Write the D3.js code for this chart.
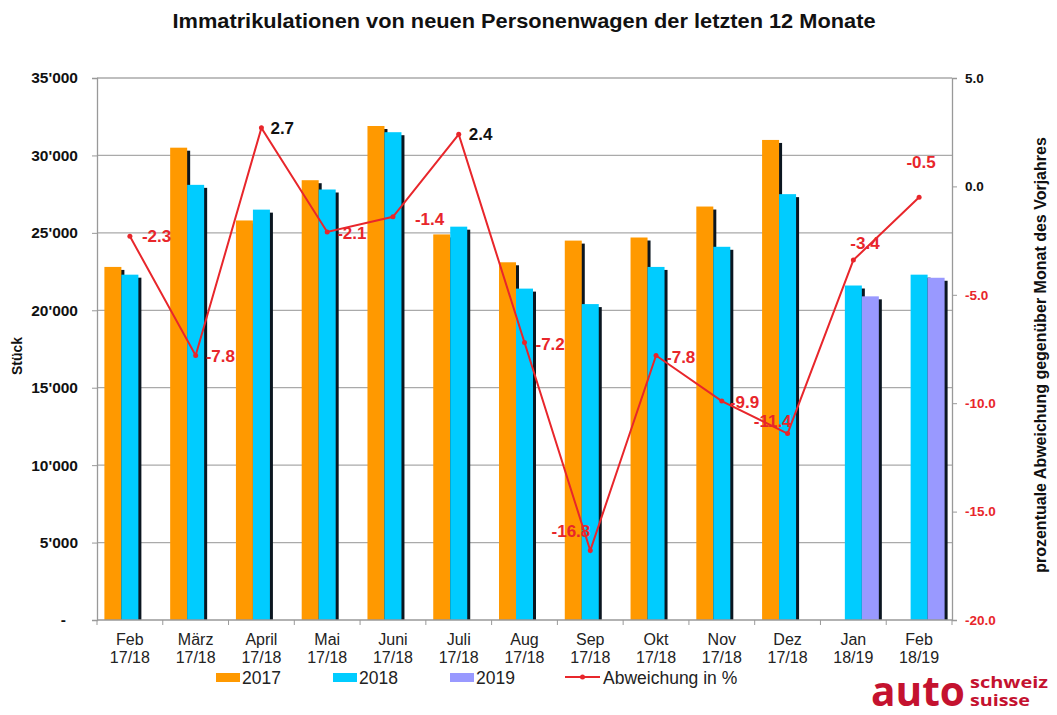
<!DOCTYPE html>
<html>
<head>
<meta charset="utf-8">
<script src="https://cdn.jsdelivr.net/npm/d3@7"></script>
<style>
  body { margin: 0; background: #fff; }
  svg { display: block; font-family: "Liberation Sans", Arial, sans-serif; }
</style>
</head>
<body>
<script>
// data
const monthNames = ["Feb", "März", "April", "Mai", "Juni", "Juli", "Aug", "Sep", "Okt", "Nov", "Dez", "Jan", "Feb"];
const periods = ["17/18", "17/18", "17/18", "17/18", "17/18", "17/18", "17/18", "17/18", "17/18", "17/18", "17/18", "18/19", "18/19"];
const sales2017 = [22800, 30500, 25800, 28400, 31900, 24900, 23100, 24500, 24700, 26700, 31000, null, null];
const sales2018 = [22300, 28100, 26500, 27800, 31500, 25400, 21400, 20400, 22800, 24100, 27500, 21600, 22300];
const sales2019 = [null, null, null, null, null, null, null, null, null, null, null, 20900, 22100];
const changePct = [-2.3, -7.8, 2.7, -2.1, -1.4, 2.4, -7.2, -16.8, -7.8, -9.9, -11.4, -3.4, -0.5];
const leftTicks = [0, 5000, 10000, 15000, 20000, 25000, 30000, 35000];
const rightTicks = [5, 0, -5, -10, -15, -20];

const seriesNames = ["2017", "2018", "2019"];
const seriesColors = ["#ff9900", "#00ccff", "#9999ff"];
const lineColor = "#e8262b";

// where each percent label sits next to its point: [dx, dy, anchor]
const labelPlace = [
  [12, 6, "start"], [10, 6, "start"], [9, 6, "start"], [10, 7, "start"],
  [22, 8, "start"], [10, 6, "start"], [11, 8, "start"], [0, -14, "end"],
  [10, 7, "start"], [8, 7, "start"], [4, -7, "end"], [-3, -11, "start"],
  [2, -29, "middle"]
];

const loc = d3.formatLocale({ decimal: ".", thousands: "'", grouping: [3], currency: ["", ""], minus: "-" });
const fmtPct = loc.format(".1f");
const fmtNum = d => d === 0 ? "-" : loc.format(",")(d);

const width = 1057;
const height = 715;
const margin = { top: 78, right: 105, bottom: 95, left: 97 };

const svg = d3.select("body").append("svg").attr("width", width).attr("height", height);

const keys = d3.range(monthNames.length);
const x = d3.scaleBand().domain(keys).range([margin.left, width - margin.right]).padding(0);
const x1 = d3.scaleBand().domain([0, 1, 2]).range([0, x.bandwidth()]).paddingInner(0).paddingOuter(0.435);
const y = d3.scaleLinear().domain([0, 35000]).range([height - margin.bottom, margin.top]);
const y2 = d3.scaleLinear().domain([-20, 5]).range([height - margin.bottom, margin.top]);

const x0 = margin.left, xR = width - margin.right, yB = height - margin.bottom;

// title
svg.append("text")
  .attr("x", 524).attr("y", 28)
  .attr("text-anchor", "middle")
  .attr("font-size", 21).attr("font-weight", "bold").attr("fill", "#111")
  .attr("textLength", 703).attr("lengthAdjust", "spacingAndGlyphs")
  .text("Immatrikulationen von neuen Personenwagen der letzten 12 Monate");

// gridlines
svg.append("g")
  .selectAll("line").data(leftTicks.filter(d => d > 0)).join("line")
  .attr("x1", x0).attr("x2", xR)
  .attr("y1", d => y(d)).attr("y2", d => y(d))
  .attr("stroke", "#aaa").attr("stroke-width", 1.3);

// bars with dark drop shadow
const series = [sales2017, sales2018, sales2019];
const barG = svg.append("g");
keys.forEach(i => {
  series.forEach((vals, s) => {
    const v = vals[i];
    if (v == null) return;
    const bx = x(i) + x1(s), by = y(v), bw = x1.bandwidth();
    barG.append("rect")
      .attr("x", bx + 3).attr("y", by + 3)
      .attr("width", bw).attr("height", yB - by - 3)
      .attr("fill", "#0b1620");
    barG.append("rect")
      .attr("x", bx).attr("y", by)
      .attr("width", bw).attr("height", yB - by)
      .attr("fill", seriesColors[s]);
  });
});

// left axis
const leftAxis = svg.append("g")
  .attr("transform", `translate(${x0},0)`)
  .call(d3.axisLeft(y).tickValues(leftTicks).tickFormat(fmtNum).tickSize(5).tickPadding(14));
leftAxis.select(".domain").attr("stroke", "#999").attr("stroke-width", 1.3);
leftAxis.selectAll(".tick line").attr("stroke", "#999");
leftAxis.selectAll(".tick text")
  .attr("font-size", 15.5).attr("font-weight", "bold").attr("fill", "#111")
  .attr("font-family", "Liberation Sans, Arial, sans-serif")
  .attr("dx", d => d === 0 ? -12 : 0);

// right axis
const rightAxis = svg.append("g")
  .attr("transform", `translate(${xR},0)`)
  .call(d3.axisRight(y2).tickValues(rightTicks).tickFormat(fmtPct).tickSize(5).tickPadding(8));
rightAxis.select(".domain").attr("stroke", "#999").attr("stroke-width", 1.3);
rightAxis.selectAll(".tick line").attr("stroke", "#999");
rightAxis.selectAll(".tick text")
  .attr("font-size", 13.5).attr("font-weight", "bold")
  .attr("font-family", "Liberation Sans, Arial, sans-serif")
  .attr("fill", d => d < 0 ? lineColor : "#111");

// bottom axis: ticks at band edges
svg.append("line")
  .attr("x1", x0).attr("x2", xR).attr("y1", yB).attr("y2", yB)
  .attr("stroke", "#999").attr("stroke-width", 1.3);
svg.append("g")
  .selectAll("line").data(d3.range(monthNames.length + 1)).join("line")
  .attr("x1", d => x0 + d * x.step()).attr("x2", d => x0 + d * x.step())
  .attr("y1", yB).attr("y2", yB + 5)
  .attr("stroke", "#999");

const catG = svg.append("g").attr("font-size", 16).attr("fill", "#222").attr("text-anchor", "middle");
keys.forEach(i => {
  const cx = x(i) + x.bandwidth() / 2;
  catG.append("text").attr("x", cx).attr("y", yB + 25).text(monthNames[i]);
  catG.append("text").attr("x", cx).attr("y", yB + 43).text(periods[i]);
});

// axis titles
svg.append("text")
  .attr("transform", `translate(22,${(margin.top + yB) / 2 + 7}) rotate(-90)`)
  .attr("text-anchor", "middle")
  .attr("font-size", 14).attr("font-weight", "bold").attr("fill", "#111")
  .text("Stück");
svg.append("text")
  .attr("transform", `translate(1046,${(margin.top + yB) / 2 + 6}) rotate(-90)`)
  .attr("text-anchor", "middle")
  .attr("font-size", 16).attr("font-weight", "bold").attr("fill", "#111")
  .text("prozentuale Abweichung gegenüber Monat des Vorjahres");

// percentage line
const cxOf = i => x(i) + x.bandwidth() / 2;
const line = d3.line().x((d, i) => cxOf(i)).y(d => y2(d));
svg.append("path")
  .datum(changePct)
  .attr("d", line)
  .attr("fill", "none").attr("stroke", lineColor).attr("stroke-width", 2);
svg.append("g")
  .selectAll("circle").data(changePct).join("circle")
  .attr("cx", (d, i) => cxOf(i)).attr("cy", d => y2(d)).attr("r", 2.5)
  .attr("fill", lineColor);
svg.append("g")
  .selectAll("text").data(changePct).join("text")
  .attr("x", (d, i) => cxOf(i) + labelPlace[i][0])
  .attr("y", d => y2(d))
  .attr("dy", (d, i) => labelPlace[i][1])
  .attr("text-anchor", (d, i) => labelPlace[i][2])
  .attr("font-size", 17).attr("font-weight", "bold")
  .attr("fill", d => d < 0 ? lineColor : "#111")
  .text(d => fmtPct(d));

// legend
const legend = svg.append("g").attr("font-size", 17.5).attr("fill", "#222");
const legX = 216, legStep = 117, legY = 677;
seriesNames.forEach((name, s) => {
  const lx = legX + s * legStep;
  legend.append("rect").attr("x", lx).attr("y", legY - 4).attr("width", 24).attr("height", 9).attr("fill", seriesColors[s]);
  legend.append("text").attr("x", lx + 26).attr("y", legY + 7).text(name);
});
const lineLx = legX + 3 * legStep - 2;
legend.append("line").attr("x1", lineLx).attr("x2", lineLx + 35).attr("y1", legY).attr("y2", legY)
  .attr("stroke", lineColor).attr("stroke-width", 2);
legend.append("circle").attr("cx", lineLx + 17.5).attr("cy", legY).attr("r", 2.5).attr("fill", lineColor);
legend.append("text").attr("x", lineLx + 38).attr("y", legY + 7).text("Abweichung in %");

// logo
const logo = svg.append("g").attr("fill", "#c4122f").attr("font-family", "Open Sans, DejaVu Sans, sans-serif").attr("font-weight", "bold");
logo.append("text").attr("x", 871).attr("y", 706).attr("font-size", 41)
  .attr("textLength", 94).attr("lengthAdjust", "spacingAndGlyphs").text("auto");
logo.append("text").attr("x", 970).attr("y", 688).attr("font-size", 16)
  .attr("textLength", 78).attr("lengthAdjust", "spacingAndGlyphs").text("schweiz");
logo.append("text").attr("x", 970).attr("y", 706).attr("font-size", 16)
  .attr("textLength", 60).attr("lengthAdjust", "spacingAndGlyphs").text("suisse");
</script>
</body>
</html>
